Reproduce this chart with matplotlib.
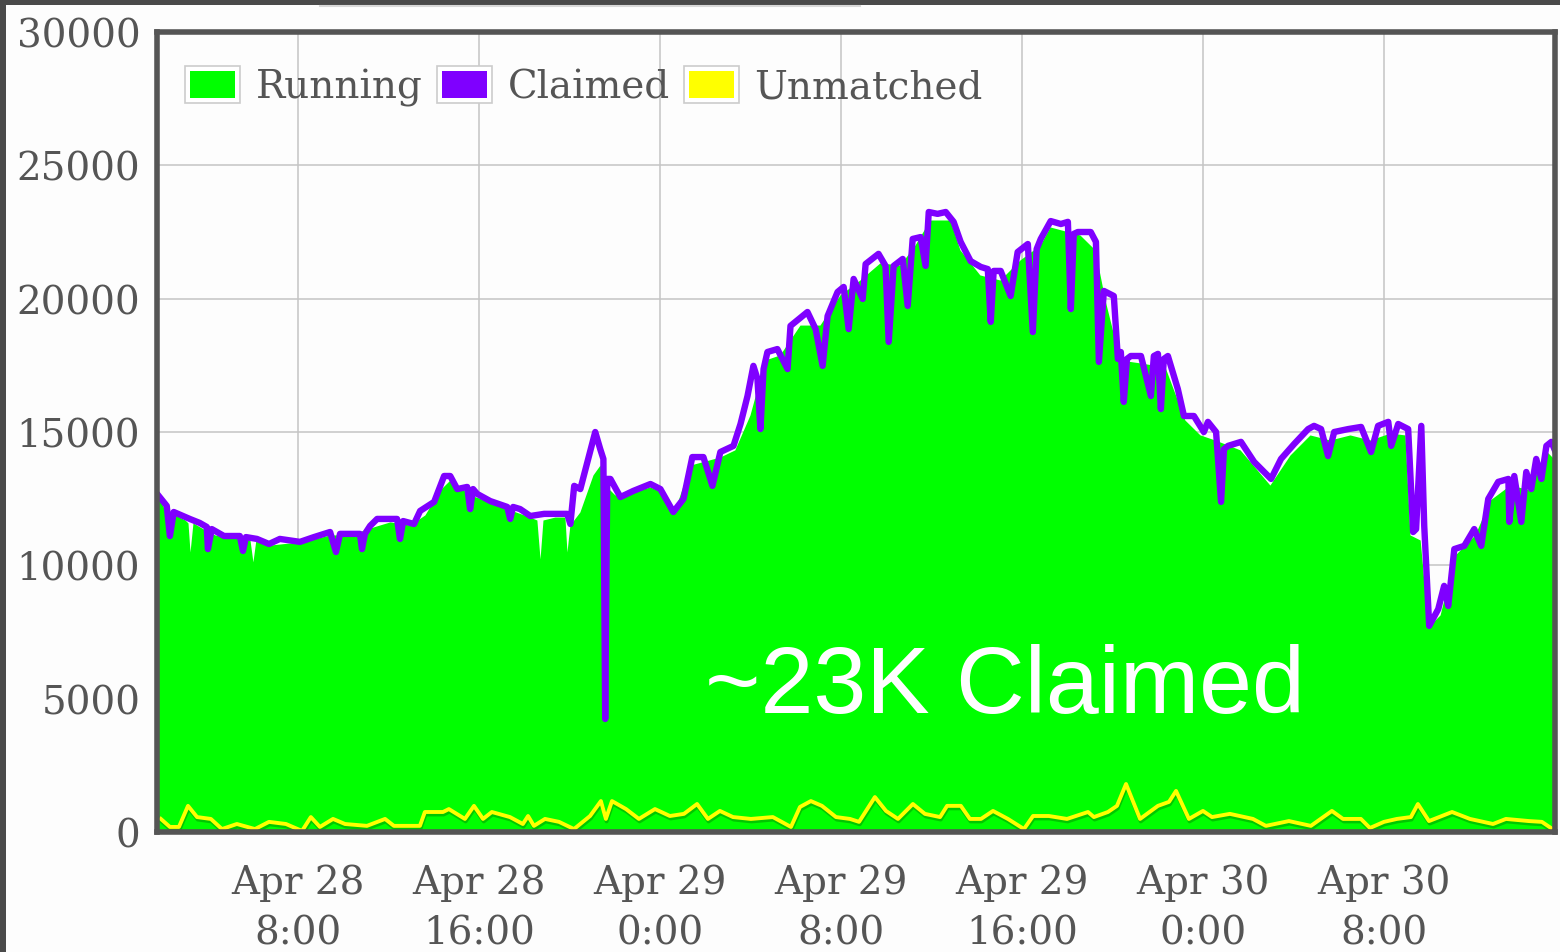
import matplotlib
matplotlib.use("Agg")
import matplotlib.pyplot as plt
import matplotlib.patheffects as pe
from matplotlib.patches import Patch, Rectangle
from matplotlib.lines import Line2D
from matplotlib.legend_handler import HandlerBase

# hours since Apr 28 0:00
claimed_t = [1.85, 2.20, 2.34, 2.51, 3.22, 3.66, 3.97, 4.02, 4.19, 4.73,
             5.43, 5.57, 5.70, 6.19, 6.72, 7.20, 8.09, 8.71, 9.42, 9.68,
             9.86, 10.74, 10.83, 10.96, 11.19, 11.50, 12.38, 12.51, 12.65, 13.13,
             13.40, 14.02, 14.46, 14.73, 15.04, 15.48, 15.61, 15.74, 15.92, 16.50,
             17.25, 17.38, 17.51, 17.82, 18.27, 18.88, 19.46, 19.90, 20.04, 20.21,
             20.48, 20.83, 21.14, 21.36, 21.50, 21.58, 21.67, 21.81, 22.25, 22.82,
             23.58, 24.02, 24.59, 25.04, 25.43, 25.92, 26.32, 26.67, 27.25, 27.56,
             27.87, 28.13, 28.31, 28.44, 28.58, 28.75, 29.19, 29.64, 29.77, 30.52,
             30.88, 31.19, 31.41, 31.85, 32.12, 32.34, 32.56, 32.96, 33.09, 33.66,
             33.97, 34.11, 34.33, 34.73, 34.95, 35.17, 35.52, 35.74, 35.88, 36.27,
             36.63, 36.98, 37.29, 37.73, 38.18, 38.49, 38.62, 38.75, 39.06, 39.50,
             39.81, 40.26, 40.48, 40.65, 40.83, 41.27, 41.72, 42.03, 42.16, 42.29,
             42.47, 43.04, 43.27, 43.40, 43.62, 44.06, 44.24, 44.37, 44.50, 44.64,
             44.81, 45.26, 45.70, 45.83, 46.01, 46.14, 46.27, 46.45, 46.89, 47.16,
             47.60, 48.04, 48.22, 48.58, 48.80, 48.93, 49.11, 49.68, 50.26, 51.01,
             51.45, 52.03, 52.65, 52.91, 53.22, 53.53, 53.80, 54.42, 54.99, 55.43,
             55.74, 56.19, 56.32, 56.63, 57.07, 57.29, 57.42, 57.65, 57.78, 58.00,
             58.40, 58.66, 58.84, 59.11, 59.55, 59.99, 60.30, 60.61, 61.05, 61.50,
             61.54, 61.76, 62.07, 62.29, 62.51, 62.73, 62.96, 63.18, 63.40, 63.66]
claimed_v = [12600, 12230, 11100, 12000, 11740, 11590, 11440, 10610, 11360, 11100,
             11100, 10540, 11060, 10990, 10800, 10990, 10880, 11060, 11250, 10500,
             11180, 11180, 10610, 11180, 11480, 11740, 11740, 10990, 11660, 11550,
             12040, 12380, 13350, 13350, 12860, 12940, 12110, 12860, 12680, 12410,
             12190, 11740, 12190, 12110, 11850, 11930, 11930, 11930, 11550, 12980,
             12860, 13990, 15000, 14360, 13990, 4240, 13240, 13240, 12560, 12790,
             13050, 12860, 12000, 12490, 14060, 14060, 12980, 14250, 14480, 15300,
             16350, 17480, 16990, 15110, 17360, 18000, 18110, 17360, 18980, 19500,
             18860, 17480, 19350, 20250, 20440, 18860, 20740, 19990, 21300, 21680,
             21230, 18380, 21230, 21490, 19730, 22240, 22310, 21230, 23250, 23180,
             23250, 22880, 22130, 21410, 21190, 21110, 19130, 21040, 21040, 20100,
             21750, 22050, 18750, 21860, 22240, 22910, 22800, 22880, 19610, 22430,
             22500, 22500, 22130, 17630, 20290, 20100, 17740, 18000, 16130, 17740,
             17850, 17850, 16350, 17850, 17930, 15860, 17740, 17850, 16610, 15600,
             15600, 15000, 15380, 15000, 12380, 14360, 14480, 14630, 13880, 13240,
             13990, 14550, 15110, 15230, 15110, 14100, 15000, 15110, 15190, 14250,
             15230, 15380, 14480, 15300, 15110, 11250, 11360, 15230, 11480, 7730,
             8360, 9230, 8480, 10610, 10730, 11360, 10730, 12490, 13130, 13240,
             11630, 13350, 11630, 13500, 12860, 13990, 13240, 14480, 14630, 14100]

running_t = [1.77, 2.12, 2.56, 3.01, 3.14, 3.23, 3.36, 3.89, 4.33, 4.77,
             5.44, 5.88, 6.01, 6.14, 6.76, 7.65, 8.53, 9.41, 10.30, 11.18,
             12.07, 12.95, 13.61, 14.28, 14.72, 15.60, 16.49, 17.37, 18.25, 18.56,
             18.70, 18.83, 19.36, 19.80, 19.89, 20.02, 20.46, 21.04, 21.35, 21.57,
             22.01, 22.67, 23.56, 24.22, 24.66, 25.33, 25.99, 26.65, 27.31, 27.98,
             28.64, 29.30, 30.19, 31.07, 31.96, 32.84, 33.72, 34.61, 35.27, 35.93,
             36.82, 37.26, 38.14, 39.03, 39.91, 40.80, 41.24, 42.56, 43.23, 43.67,
             44.33, 45.22, 46.32, 47.20, 47.87, 48.53, 49.64, 50.96, 51.85, 52.73,
             53.61, 54.50, 55.38, 56.27, 56.93, 57.15, 57.60, 57.95, 58.48, 59.15,
             60.02, 60.69, 61.57, 62.45, 63.12, 63.56]
running_v = [12640, 12080, 11890, 11700, 11590, 10500, 11590, 11330, 11140, 11060,
             11030, 10950, 10130, 10950, 10760, 10840, 10950, 11140, 11140, 11400,
             11630, 11510, 11890, 12830, 13200, 12640, 12380, 12080, 11810, 11700,
             10240, 11700, 11810, 11810, 10500, 11510, 12000, 13390, 13760, 13010,
             12640, 12710, 12940, 12710, 12080, 13760, 13910, 14060, 14330, 15640,
             17700, 17890, 19010, 19010, 20140, 20700, 21340, 21260, 22010, 22950,
             22950, 21830, 20890, 20700, 21450, 22010, 22690, 22390, 21830, 19950,
             17700, 17590, 17440, 15450, 14890, 14700, 14330, 13010, 14140, 14890,
             14700, 14890, 14700, 14960, 14890, 11140, 10950, 7690, 8140, 10390,
             11140, 12450, 13010, 12830, 14330, 13950]

unmatched_t = [1.94, 2.34, 2.74, 3.14, 3.54, 4.15, 4.64, 5.30, 6.10, 6.72,
               7.47, 8.18, 8.57, 8.97, 9.55, 10.08, 11.05, 11.85, 12.24, 13.39,
               13.61, 14.41, 14.67, 15.38, 15.78, 16.18, 16.57, 17.37, 17.94, 18.17,
               18.43, 18.92, 19.54, 20.20, 20.91, 21.39, 21.61, 21.88, 22.50, 23.07,
               23.78, 24.44, 25.06, 25.64, 26.12, 26.65, 27.23, 28.02, 28.99, 29.79,
               30.19, 30.67, 31.16, 31.78, 32.40, 32.80, 33.50, 33.99, 34.52, 35.18,
               35.71, 36.38, 36.69, 37.30, 37.70, 38.19, 38.72, 39.38, 40.09, 40.49,
               41.19, 41.99, 42.92, 43.18, 43.80, 44.20, 44.60, 45.22, 46.01, 46.50,
               46.81, 47.38, 48.00, 48.40, 49.19, 50.21, 50.78, 51.80, 52.77, 53.70,
               54.19, 54.98, 55.38, 56.00, 56.57, 57.19, 57.50, 57.99, 59.01, 59.80,
               60.82, 61.39, 62.41, 62.98, 63.38]
unmatched_v = [490, 190, 190, 980, 560, 490, 110, 300, 110, 380,
               300, 40, 560, 190, 490, 300, 230, 490, 230, 230,
               750, 750, 860, 490, 980, 490, 750, 560, 300, 600,
               230, 490, 380, 110, 600, 1160, 490, 1160, 860, 490,
               860, 600, 680, 1050, 490, 790, 560, 490, 560, 190,
               940, 1160, 980, 560, 490, 380, 1310, 790, 490, 1050,
               680, 560, 980, 980, 490, 490, 790, 490, 110, 600,
               600, 490, 750, 560, 750, 980, 1800, 490, 980, 1130,
               1540, 490, 790, 560, 680, 490, 230, 410, 230, 790,
               490, 490, 150, 380, 490, 560, 1050, 410, 750, 490,
               300, 490, 410, 380, 150]

xtick_pos = [8, 16, 24, 32, 40, 48, 56]
xtick_labels = ["Apr 28\n8:00", "Apr 28\n16:00", "Apr 29\n0:00", "Apr 29\n8:00",
                "Apr 29\n16:00", "Apr 30\n0:00", "Apr 30\n8:00"]
yticks = [0, 5000, 10000, 15000, 20000, 25000, 30000]

GREEN = "#00ff00"
PURPLE = "#7f00ff"
YELLOW = "#ffff00"
GRAY = "#555555"
FS = 28


class SwatchHandler(HandlerBase):
    # flot-style legend box: grey outline, white gap, coloured square
    def create_artists(self, legend, orig_handle, xdescent, ydescent,
                       width, height, fontsize, trans):
        outer = Rectangle((-xdescent, -ydescent), width, height,
                          facecolor="white", edgecolor="#cccccc", lw=1.2,
                          transform=trans)
        px, py = 0.09 * width, 0.14 * height
        inner = Rectangle((-xdescent + px, -ydescent + py), width - 2 * px,
                          height - 2 * py, facecolor=orig_handle.get_facecolor(),
                          edgecolor="none", transform=trans)
        return [outer, inner]


fig = plt.figure(figsize=(15.6, 9.53), dpi=100, facecolor="#fdfdfd")
ax = fig.add_axes([157 / 1560, 120 / 953, 1398 / 1560, 800 / 953])
ax.set_facecolor("#fdfdfd")

ax.fill_between(running_t, running_v, 0, color=GREEN, lw=0, zorder=2)
ax.plot(claimed_t, claimed_v, color=PURPLE, lw=4.6, solid_joinstyle="round",
        zorder=3)
ax.plot(unmatched_t, unmatched_v, color=YELLOW, lw=2.8, solid_joinstyle="round",
        zorder=4,
        path_effects=[pe.SimpleLineShadow(offset=(0.5, -1.8), shadow_color="#006000",
                                          alpha=0.35), pe.Normal()])

ax.set_xlim(1.77, 63.56)
ax.set_ylim(0, 30000)
ax.set_xticks(xtick_pos)
ax.set_xticklabels(xtick_labels, linespacing=1.45)
ax.set_yticks(yticks)
ax.set_yticklabels([str(v) for v in yticks])
ax.tick_params(length=0, colors=GRAY, labelsize=FS)
ax.tick_params(axis="y", pad=12)
ax.tick_params(axis="x", pad=23)
for lab in ax.get_xticklabels() + ax.get_yticklabels():
    lab.set_family("DejaVu Serif")

ax.grid(True, color="#c4c4c4", lw=1.1)
ax.set_axisbelow(True)
for s in ax.spines.values():
    s.set_color(GRAY)
    s.set_linewidth(4.0)
    s.set_zorder(6)

handles = [Patch(facecolor=GREEN), Patch(facecolor=PURPLE), Patch(facecolor=YELLOW)]
leg = ax.legend(handles, ["Running", "Claimed", "Unmatched"], ncol=3,
                loc="upper left", bbox_to_anchor=(0.02, 0.958), frameon=False,
                borderpad=0, borderaxespad=0, handlelength=1.42,
                handleheight=1.12, handletextpad=0.4, columnspacing=0.36,
                prop={"family": "DejaVu Serif", "size": FS},
                handler_map={Patch: SwatchHandler()})
for t in leg.get_texts():
    t.set_color(GRAY)

ax.text(25.99, 4500, "~23K Claimed", color="white", fontsize=68.5,
        family="Liberation Sans", ha="left", va="baseline", zorder=7)

# screenshot edges
fig.add_artist(Rectangle((0, 1 - 6 / 953), 1, 6 / 953, transform=fig.transFigure,
                         color="#4a4a4a", lw=0))
fig.add_artist(Rectangle((0, 0), 6 / 1560, 1, transform=fig.transFigure,
                         color="#4a4a4a", lw=0))
fig.add_artist(Line2D([320 / 1560, 860 / 1560], [1 - 7 / 953, 1 - 7 / 953],
                      transform=fig.transFigure, color="#d8d8d8", lw=1.5))

fig.savefig("out.png", dpi=100, facecolor=fig.get_facecolor())
